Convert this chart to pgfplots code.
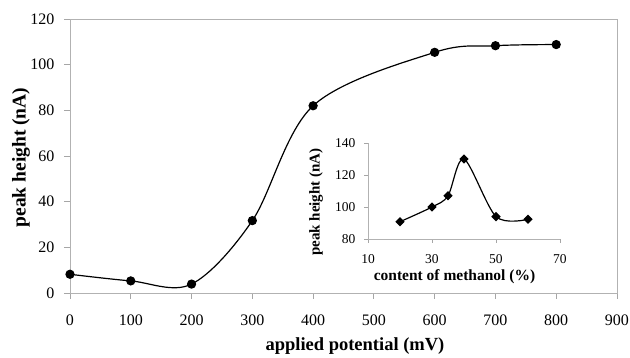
\documentclass[border=0pt]{standalone}
\usepackage{fontspec}
\setmainfont{Liberation Serif}
\usepackage{pgfplots}
\pgfplotsset{compat=1.18}
\begin{document}
\begin{tikzpicture}
\begin{axis}[
  at={(0pt,0pt)}, anchor=south west,
  scale only axis, width=547pt, height=274pt,
  xmin=0, xmax=900, ymin=0, ymax=120,
  xtick={0,100,...,900}, ytick={0,20,...,120},
  xtick pos=lower, ytick pos=left,
  tick align=outside, major tick length=6pt,
  axis line style={draw=black!30, line width=0.8pt},
  tick style={draw=black!35, line width=0.8pt},
  /pgf/number format/assume math mode=true,
  ticklabel style={font=\fontsize{16}{16}\selectfont},
  xticklabel style={anchor=base, yshift=-27pt},
  yticklabel style={anchor=east, xshift=-6pt},
  xlabel={\textbf{applied potential (mV)}},
  ylabel={\textbf{peak height (nA)}},
  xlabel style={font=\fontsize{18.5}{18.5}\selectfont, at={(axis description cs:0.521,-0.193)}, anchor=center},
  ylabel style={font=\fontsize{19.5}{19.5}\selectfont, at={(axis description cs:-0.0896,0.4945)}, anchor=center, rotate=0},
  clip=false,
]
\addplot[black, line width=1.2pt, smooth, tension=0.55, mark=*, mark size=4pt, mark options={fill=black}]
  coordinates {(0,8.2) (100,5.3) (200,3.9) (300,31.7) (400,82) (600,105.4) (700,108.3) (800,108.8)};
\end{axis}
\begin{axis}[
  at={(298pt,54pt)}, anchor=south west,
  scale only axis, width=192pt, height=96pt,
  xmin=10, xmax=70, ymin=80, ymax=140,
  xtick={10,30,50,70}, ytick={80,100,120,140},
  axis lines*=left,
  tick align=outside, major tick length=4pt,
  axis line style={draw=black!30, line width=0.8pt},
  tick style={draw=black!35, line width=0.8pt},
  /pgf/number format/assume math mode=true,
  ticklabel style={font=\fontsize{13.5}{13.5}\selectfont},
  xticklabel style={anchor=base, yshift=-21pt},
  yticklabel style={anchor=east, xshift=-5pt},
  xlabel={\textbf{content of methanol (\%)}},
  ylabel={\textbf{peak height (nA)}},
  xlabel style={font=\fontsize{15.5}{15.5}\selectfont, at={(axis description cs:0.4505,-0.396)}, anchor=center},
  ylabel style={font=\fontsize{15}{15}\selectfont, at={(axis description cs:-0.271,0.385)}, anchor=center},
  clip=false,
]
\addplot[black, line width=1.2pt, smooth, tension=0.5, mark=square*, mark size=2.7pt, mark options={fill=black, rotate=45}]
  coordinates {(20,90.8) (30,100) (35,107) (40,130) (50,94) (60,92.3)};
\end{axis}
\pgfresetboundingbox
\path (-70pt,-65pt) rectangle (560pt,293pt);
\end{tikzpicture}
\end{document}
